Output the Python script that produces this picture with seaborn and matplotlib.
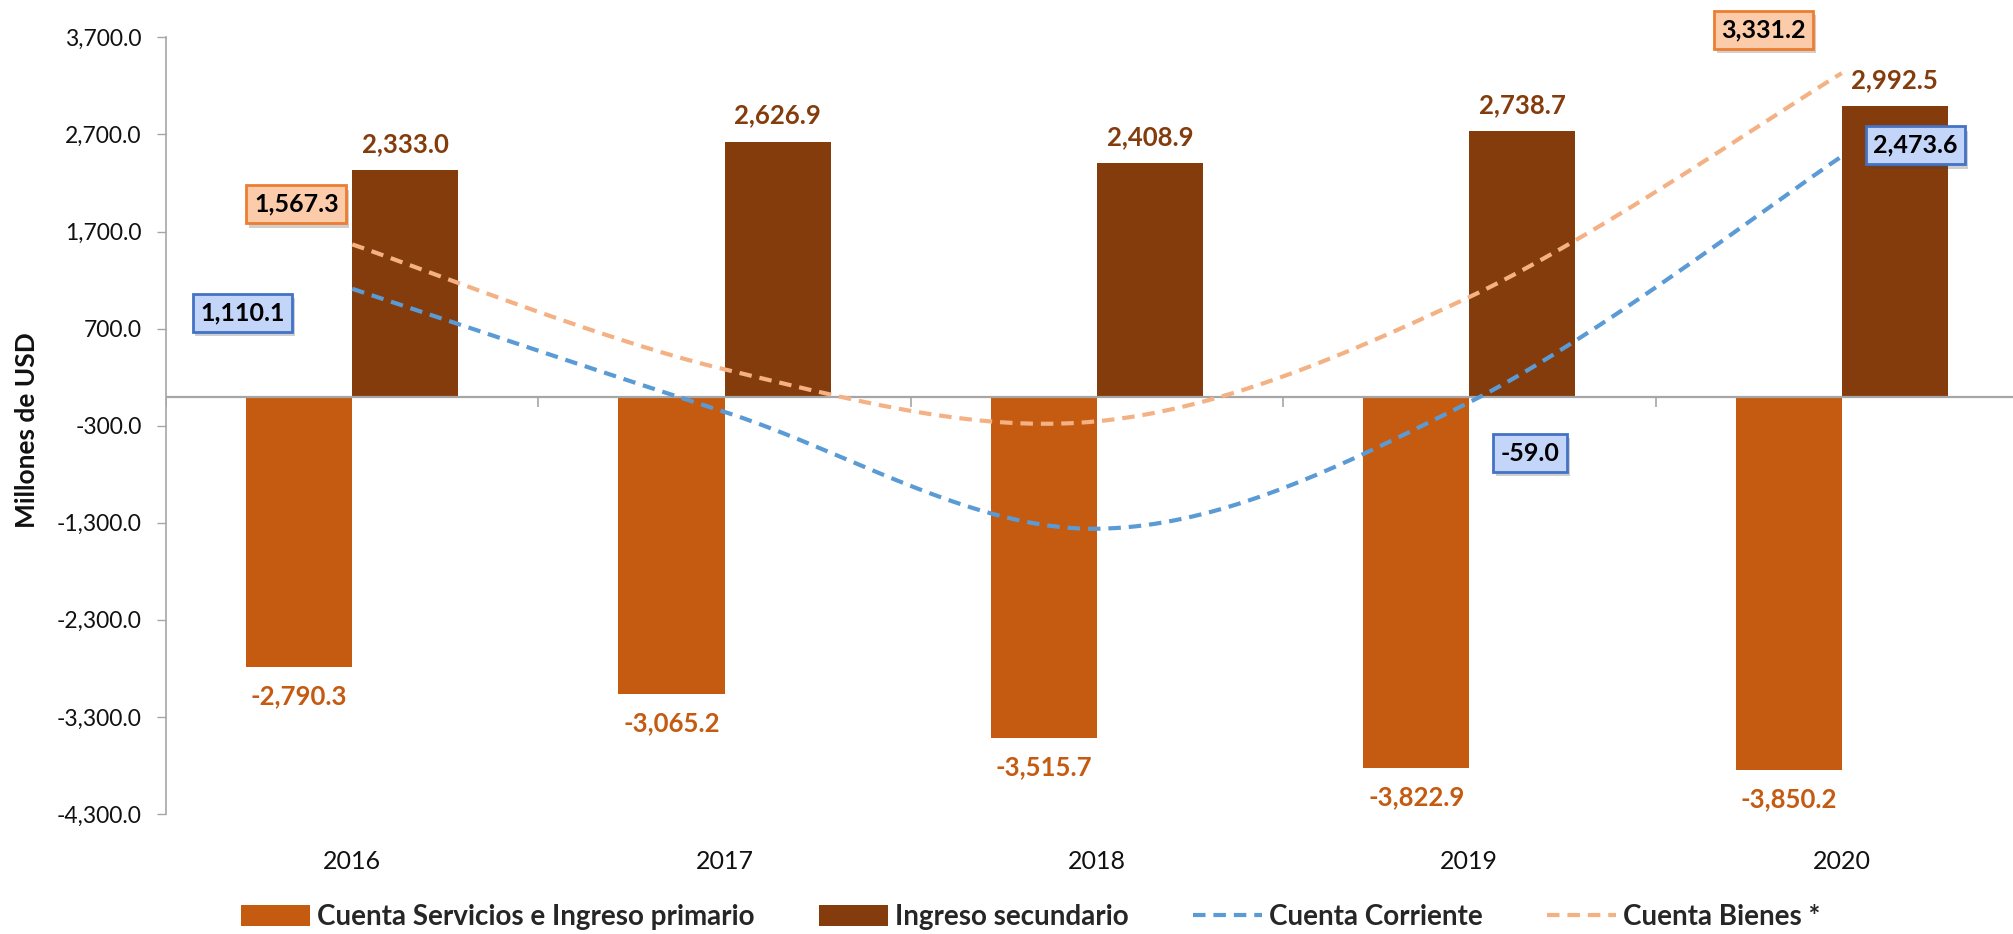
import numpy as np
import pandas as pd
import matplotlib
matplotlib.use("Agg")
import matplotlib.pyplot as plt
import seaborn as sns
from matplotlib import font_manager
from matplotlib.patches import Patch
from matplotlib.lines import Line2D
import matplotlib.patheffects as pe

# ---------------- data ----------------
years = ["2016", "2017", "2018", "2019", "2020"]
servicios_primario = [-2790.3, -3065.2, -3515.7, -3822.9, -3850.2]
ingreso_secundario = [2333.0, 2626.9, 2408.9, 2738.7, 2992.5]
cuenta_corriente = [1110.1, -158.3, -1361.8, -59.0, 2473.6]
cuenta_bienes = [1567.3, 280.0, -255.0, 1025.2, 3331.2]
# which line points carry a boxed label
corriente_labeled = [True, False, False, True, True]
bienes_labeled = [True, False, False, False, True]

series_names = ["Cuenta Servicios e Ingreso primario", "Ingreso secundario",
                "Cuenta Corriente", "Cuenta Bienes *"]
y_ticks = [-4300, -3300, -2300, -1300, -300, 700, 1700, 2700, 3700]

# ---------------- style ----------------
C_ORANGE = "#C55A11"
C_BROWN = "#843C0C"
C_BLUE = "#5B9BD5"
C_PEACH = "#F4B183"

sns.set_theme(style="white")
available = {f.name for f in font_manager.fontManager.ttflist}
base_font = "Lato" if "Lato" in available else "DejaVu Sans"
legend_font = "Liberation Sans Narrow" if "Liberation Sans Narrow" in available else base_font
plt.rcParams["font.family"] = [base_font, "DejaVu Sans"]

fig = plt.figure(figsize=(20.13, 9.34), dpi=100)
ax = fig.add_axes([0.0825, 0.1285, 0.9175, 0.8315])

df = pd.DataFrame({
    "year": years * 2,
    "serie": [series_names[0]] * len(years) + [series_names[1]] * len(years),
    "value": servicios_primario + ingreso_secundario,
})
sns.barplot(data=df, x="year", y="value", hue="serie", order=years,
            hue_order=series_names[:2], palette=[C_ORANGE, C_BROWN],
            width=0.57, saturation=1, edgecolor="none", ax=ax, legend=False,
            zorder=2)

# bar value labels
for cont, col, off in zip(ax.containers, [C_ORANGE, C_BROWN], [-29, 26]):
    for rect in cont:
        val = rect.get_y() + rect.get_height()
        xc = rect.get_x() + rect.get_width() / 2
        ax.annotate(f"{val:,.1f}", xy=(xc, val), xytext=(0, off),
                    textcoords="offset pixels", ha="center", va="center",
                    fontsize=18.5, fontweight="bold", color=col, zorder=6)


def smooth(xs, ys, n=40):
    """Excel-like smoothed line (Catmull-Rom / Bezier)."""
    P = np.column_stack([xs, ys]).astype(float)
    out = []
    for i in range(len(P) - 1):
        p0 = P[i - 1] if i > 0 else P[i]
        p1, p2 = P[i], P[i + 1]
        p3 = P[i + 2] if i + 2 < len(P) else P[i + 1]
        c1 = p1 + (p2 - p0) / 6
        c2 = p2 - (p3 - p1) / 6
        t = np.linspace(0, 1, n)[:, None]
        seg = ((1 - t) ** 3) * p1 + 3 * ((1 - t) ** 2) * t * c1 + 3 * (1 - t) * t ** 2 * c2 + t ** 3 * p2
        out.append(seg if i == 0 else seg[1:])
    return np.vstack(out)


xpos = np.arange(len(years))
for vals, col in [(cuenta_bienes, C_PEACH), (cuenta_corriente, C_BLUE)]:
    s = smooth(xpos, vals)
    sns.lineplot(x=s[:, 0], y=s[:, 1], sort=False, color=col, lw=3.0,
                 linestyle=(0, (3.0, 1.9)), ax=ax, zorder=4)

# boxed labels
def boxed(x, y, text, dx, dy, face, edge):
    t = ax.annotate(text, xy=(x, y), xytext=(dx, dy), textcoords="offset pixels",
                    ha="center", va="center", fontsize=18, fontweight="bold",
                    color="black", zorder=7,
                    bbox=dict(boxstyle="square,pad=0.3", facecolor=face,
                              edgecolor=edge, linewidth=2))
    t.get_bbox_patch().set_path_effects([
        pe.SimplePatchShadow(offset=(2, -3), alpha=0.25), pe.Normal()])

bien_off = {0: (-56, 40), 4: (-78, 43)}
corr_off = {0: (-110, -24), 3: (61, -51), 4: (74, 11)}
for i, (v, lab) in enumerate(zip(cuenta_bienes, bienes_labeled)):
    if lab:
        boxed(xpos[i], v, f"{v:,.1f}", *bien_off[i], "#FBCBAA", "#ED7D31")
for i, (v, lab) in enumerate(zip(cuenta_corriente, corriente_labeled)):
    if lab:
        boxed(xpos[i], v, f"{v:,.1f}", *corr_off[i], "#C3D5F8", "#4472C4")

# zero line with category boundary ticks
ax.axhline(0, color="#A6A6A6", lw=1.6, zorder=3)
ax.vlines(np.arange(len(years) + 1) - 0.5, 0, -110, color="#A6A6A6", lw=1.2, zorder=3)

# axes
ax.set_xlim(-0.5, 4.46)
ax.set_ylim(y_ticks[0], y_ticks[-1])
ax.set_yticks(y_ticks)
ax.set_yticklabels([f"{v:,.1f}" for v in y_ticks])
ax.tick_params(axis="y", length=6.5, width=1.0, color="#A6A6A6", pad=11,
               labelsize=16.5, labelcolor="#111111", left=True)
ax.tick_params(axis="x", length=0, pad=26, labelsize=18, labelcolor="#111111")
ax.set_xlabel("")
ax.set_ylabel("Millones de USD", fontsize=19, fontweight="bold", color="#111111")
ax.yaxis.set_label_coords(-0.069, 0.494)
for sp in ["top", "right", "bottom"]:
    ax.spines[sp].set_visible(False)
ax.spines["left"].set_color("#A6A6A6")
ax.spines["left"].set_linewidth(1.2)
ax.grid(False)

# legend
handles = [
    Patch(facecolor=C_ORANGE, edgecolor="none"),
    Patch(facecolor=C_BROWN, edgecolor="none"),
    Line2D([0], [0], color=C_BLUE, lw=3.0, linestyle=(0, (3.0, 1.9))),
    Line2D([0], [0], color=C_PEACH, lw=3.0, linestyle=(0, (3.0, 1.9))),
]
fig.legend(handles, series_names, loc="center", bbox_to_anchor=(0.512, 0.018),
           ncol=4, frameon=False, handlelength=2.5, handleheight=0.75,
           handletextpad=0.25, columnspacing=2.3,
           prop=dict(family=[legend_font, "DejaVu Sans"], weight="bold", size=20))

fig.savefig("out.png", dpi=100)
